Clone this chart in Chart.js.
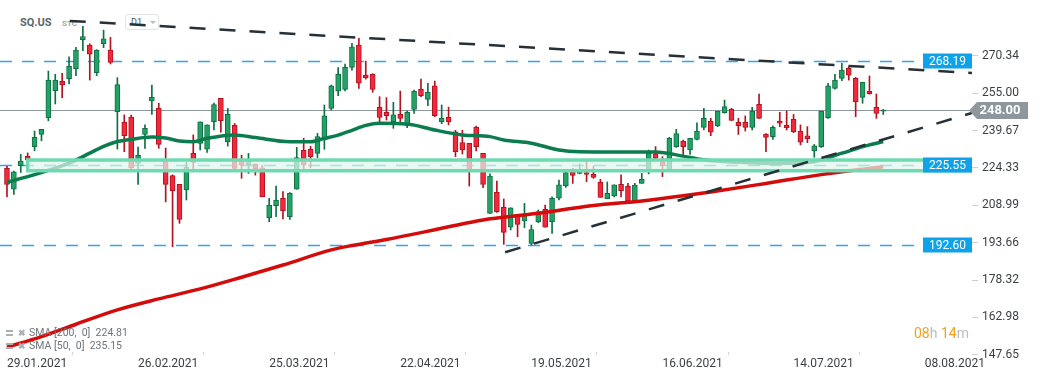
<!DOCTYPE html>
<html>
<head>
<meta charset="utf-8">
<script src="https://cdn.jsdelivr.net/npm/chart.js@4/dist/chart.umd.min.js"></script>
<style>
html,body{margin:0;padding:0;background:#fff;}
#wrap{position:relative;width:1041px;height:379px;font-family:Roboto,"Noto Sans",sans-serif;overflow:hidden;}
#c{position:absolute;left:0;top:0;z-index:2;}
.ov{position:absolute;z-index:1;white-space:pre;}
#sym{left:20px;top:16px;font-size:11px;font-weight:700;color:#5a656c;}
#stc{left:62px;top:19px;font-size:8px;font-weight:700;color:#9ba6ad;}
#tf{left:125px;top:14px;width:34px;height:16px;border:1px solid #e2e5e7;border-radius:3px;box-sizing:border-box;}
#tf span{position:absolute;left:5px;top:2px;font-size:9px;color:#4a4f53;}
#tf i{position:absolute;left:24px;top:6px;width:0;height:0;border-left:3.5px solid transparent;border-right:3.5px solid transparent;border-top:3px solid #b8bfc4;}
.lg{left:6px;font-size:10.5px;color:#6d747a;z-index:3;}
.lg b{display:inline-block;width:7px;height:6px;border-top:2px solid #a9afb3;border-bottom:2px solid #a9afb3;box-sizing:border-box;margin-right:5px;vertical-align:0px;}
.lg em{font-style:normal;font-weight:700;color:#a9afb3;font-size:9px;margin-right:3px;}
#lg1{top:326px;}
#lg2{top:339px;}
#tm{left:914px;top:325px;font-size:14px;z-index:3;}
#tm .o{color:#f7a01c;}
#tm .g{color:#b9c0c5;}
</style>
</head>
<body>
<div id="wrap">
  <div class="ov" id="sym">SQ.US</div>
  <div class="ov" id="stc">STC</div>
  <div class="ov" id="tf"><span>D1</span><i></i></div>
  <div class="ov lg" id="lg1"><b></b><em>✖</em>SMA [200,  0]  224.81</div>
  <div class="ov lg" id="lg2"><b></b><em>✖</em>SMA [50,  0]  235.15</div>
  <div class="ov" id="tm"><span class="o">08</span><span class="g">h </span><span class="o">14</span><span class="g">m</span></div>
  <canvas id="c" width="1041" height="379"></canvas>
</div>
<script>
// ---- Daily candles (index 0 = 29.01.2021) ----
const opens  = [224.2,215.6,225.3,229.1,233.1,238.1,245.0,256.1,259.9,261.0,265.1,277.0,274.8,263.4,275.3,272.7,247.4,243.1,245.2,226.2,
                238.1,251.9,248.8,227.6,221.2,217.6,215.3,230.3,234.4,232.1,243.3,252.9,235.1,241.8,227.6,225.5,225.8,224.4,203.9,208.9,
                211.9,204.3,215.6,231.6,232.1,230.3,235.8,248.8,255.9,256.6,265.6,274.8,262.5,262.8,249.2,247.2,243.3,246.3,241.7,248.4,
                256.6,252.5,258.0,243.3,245.1,239.2,234.8,234.4,241.0,230.3,205.7,214.3,208.2,200.0,205.3,202.6,193.4,202.3,207.4,202.3,
                211.9,217.1,222.8,222.1,222.4,221.8,218.4,211.7,212.9,217.6,216.8,210.8,218.0,223.5,230.1,226.9,223.5,233.1,235.4,231.7,
                236.1,241.0,243.6,241.6,247.0,248.4,243.1,243.1,241.0,250.5,238.1,237.2,243.6,241.8,244.3,239.5,237.5,231.3,233.1,245.0,
                257.0,261.1,265.2,261.1,253.3,255.8,249.2,247.6];
const highs  = [225.0,223.1,229.9,230.5,239.5,240.2,264.1,262.8,263.2,269.9,273.8,282.5,275.3,272.9,280.9,277.9,261.4,246.1,246.0,232.9,
                242.0,258.4,250.9,232.5,221.5,217.6,226.6,237.9,243.3,242.0,251.0,252.9,248.8,242.6,229.6,230.3,226.0,225.5,211.9,216.9,
                214.6,214.2,232.8,236.5,233.2,238.5,250.2,258.4,265.5,267.0,275.5,277.5,268.2,263.0,253.6,253.2,251.3,255.9,247.7,256.3,
                260.8,259.1,260.0,250.2,249.3,239.8,239.8,234.4,241.5,230.3,221.9,219.0,211.6,208.0,205.3,209.8,200.9,207.1,209.1,212.5,
                219.4,223.8,224.2,226.0,227.0,225.1,219.7,218.6,217.4,221.5,218.0,218.0,222.1,231.7,233.1,229.0,236.9,240.2,235.8,236.5,
                242.9,248.8,244.7,247.7,252.2,248.8,244.7,245.7,249.2,254.7,238.5,241.6,247.2,247.7,246.3,242.0,241.3,234.0,247.7,259.1,
                262.8,267.3,265.9,261.5,259.5,262.1,254.7,248.4];
const lows   = [212.5,213.5,222.5,226.0,231.4,235.5,243.7,250.6,253.2,258.8,262.2,272.5,260.4,262.2,273.7,267.0,232.1,231.0,223.5,217.6,
                232.4,246.3,232.4,210.4,192.0,201.6,211.2,223.5,231.7,230.7,239.9,239.0,233.3,223.8,220.1,222.1,221.4,212.5,202.3,204.3,
                203.4,203.2,215.6,224.0,224.4,228.6,232.0,248.1,254.0,256.0,264.5,257.0,260.8,255.4,243.1,244.0,240.6,243.1,240.9,246.7,
                253.6,249.9,245.4,242.5,242.0,229.0,230.1,216.9,231.3,216.2,205.7,206.1,193.0,198.9,196.1,199.8,192.7,201.9,200.0,197.5,
                211.2,216.4,218.0,221.9,218.7,220.1,212.3,211.7,212.5,212.5,210.5,210.5,218.0,221.9,227.6,220.8,223.5,232.8,229.3,229.9,
                235.8,239.9,237.6,241.3,246.8,243.8,238.1,239.5,239.9,244.7,231.0,236.1,241.3,239.9,238.8,233.8,234.7,228.7,232.8,244.7,
                256.7,260.2,260.4,245.4,250.9,254.6,244.7,246.3];
const closes = [217.6,222.8,227.2,227.7,236.9,240.2,260.4,260.4,258.4,266.0,272.7,278.3,271.0,272.7,277.3,267.7,258.6,237.6,224.5,229.6,
                240.6,253.3,234.0,217.6,215.0,203.2,224.6,226.6,243.3,242.0,250.4,243.7,246.3,224.2,225.5,227.2,223.9,212.5,209.1,211.2,
                206.8,213.9,228.6,225.5,229.0,237.2,245.7,258.0,262.8,265.6,274.1,259.1,261.4,256.6,245.1,245.8,246.1,244.7,247.2,255.9,
                254.0,255.4,245.8,244.7,243.3,231.0,231.7,223.5,233.1,217.6,221.0,206.4,197.9,208.0,201.2,204.8,199.1,206.4,200.0,211.9,
                217.4,222.4,221.3,223.9,221.7,220.5,212.3,213.9,217.4,215.0,210.8,217.3,219.7,230.3,228.3,225.3,236.5,238.5,233.1,236.5,
                239.5,244.7,239.0,247.7,249.5,243.8,241.7,241.0,247.7,244.7,236.9,241.0,242.7,240.9,239.2,234.9,236.4,233.4,247.7,258.0,
                260.4,264.5,262.4,251.5,259.5,254.8,246.7,248.0];

// ---- Moving averages (candle index -> value) ----
const sma50Idx = [0,4,9,12,14,16,18,21,23,25,27,29,33,36,41,44,46,48,50,52,54,58,62,66,70,72,76,80,83,90,94,98,101,106,112,117,121,125,127];
const sma50Val = [218.5,221.6,226.3,230.4,233.2,235.2,236.1,237.0,236.6,235.4,235.1,236.5,237.9,236.8,235.1,235.1,236.5,237.8,239.8,241.8,242.7,242.4,239.9,237.9,237.2,235.8,234.5,231.7,231.0,230.9,230.9,229.2,227.6,226.7,226.2,226.9,230.4,233.8,235.15];
const sma200Idx = [0,5,10,16,22,28,34,40,47,50,55,60,64,69,76,85,92,98,102,110,118,127];
const sma200Val = [150.8,155.1,160.2,166.1,170.6,174.7,179.5,184.5,190.7,192.5,195.0,197.8,200.2,203.0,205.4,208.9,210.8,212.9,214.5,218.0,221.6,224.81];

// ---- Drawn trend lines (candle index, price) ----
const trendTop = [{x: 9.1, y: 284.7}, {x: 139.86, y: 263.3}];
const trendUp  = [{x: 72.2, y: 189.75}, {x: 139.86, y: 246.9}];

// ---- Levels ----
const blueLevels = [268.19, 225.55, 192.60];
const lastPrice = 248.00;
const zone = [223.2, 227.6];
const zoneStartIdx = 3;

// ---- Axis ticks ----
const dateTickIdx = [0, 19, 38, 57, 76, 95, 114, 133];
const dateTickLbl = ['29.01.2021','26.02.2021','25.03.2021','22.04.2021','19.05.2021','16.06.2021','14.07.2021','08.08.2021'];
const priceTicks = [147.65, 162.98, 178.32, 193.66, 208.99, 224.33, 239.67, 255.00, 270.34];

const UP_FILL = '#23a266', UP_LINE = '#0f6e44', DN_FILL = '#f2283c', DN_LINE = '#b3121f';
const up = i => closes[i] >= opens[i];

const wickData = highs.map((h, i) => ({x: i, y: [lows[i], h]}));
const bodyData = opens.map((o, i) => ({x: i, y: [Math.min(o, closes[i]), Math.max(o, closes[i])]}));

function drawZone(chart) {
  const {ctx, chartArea: a, scales: {x, y}} = chart;
  ctx.save();
  ctx.beginPath(); ctx.rect(a.left, a.top, a.right - a.left, a.bottom - a.top); ctx.clip();
  const x0 = x.getPixelForValue(zoneStartIdx);
  const yt = y.getPixelForValue(zone[1]), yb = y.getPixelForValue(zone[0]);
  ctx.fillStyle = 'rgba(222,246,236,0.72)';
  ctx.fillRect(x0, yt, a.right + 5 - x0, yb - yt);
  ctx.strokeStyle = '#6fd9b1';
  ctx.lineWidth = 3.5;
  ctx.strokeRect(x0, yt, a.right + 5 - x0, yb - yt);
  ctx.restore();
}

const levelPlugin = {
  id: 'levels',
  beforeDatasetsDraw(chart) {
    const {ctx, chartArea: a, scales: {y}} = chart;
    ctx.save();
    ctx.beginPath(); ctx.rect(a.left, a.top, a.right - a.left, a.bottom - a.top); ctx.clip();
    ctx.strokeStyle = '#2aa9ee'; ctx.lineWidth = 1.3; ctx.setLineDash([12, 10]);
    blueLevels.forEach(v => {
      const py = Math.round(y.getPixelForValue(v)) + 0.5;
      ctx.beginPath(); ctx.moveTo(a.left, py); ctx.lineTo(a.right - 56, py); ctx.stroke();
    });
    ctx.setLineDash([]);
    ctx.strokeStyle = '#8e979c'; ctx.lineWidth = 1;
    const pl = Math.round(y.getPixelForValue(lastPrice)) + 0.5;
    ctx.beginPath(); ctx.moveTo(a.left, pl); ctx.lineTo(a.right, pl); ctx.stroke();
    ctx.restore();
    chart.$zoneDone = false;
  },
  beforeDatasetDraw(chart, args) {
    if (!chart.$zoneDone && chart.data.datasets[args.index].isTrend) { drawZone(chart); chart.$zoneDone = true; }
  },
  afterDatasetsDraw(chart) {
    if (!chart.$zoneDone) { drawZone(chart); chart.$zoneDone = true; }
    const {ctx, chartArea: a, scales: {y}} = chart;
    ctx.save();
    ctx.font = '12px Roboto';
    ctx.textAlign = 'center'; ctx.textBaseline = 'middle';
    blueLevels.forEach(v => {
      const py = Math.round(y.getPixelForValue(v));
      ctx.fillStyle = '#0ea2ea';
      ctx.fillRect(a.right - 49, py - 7.5, 49, 15);
      ctx.fillStyle = '#ffffff';
      ctx.fillText(v.toFixed(2), a.right - 24.5, py + 0.5);
    });
    const pl = Math.round(y.getPixelForValue(lastPrice)) + 0.5;
    ctx.fillStyle = '#8d979c';
    ctx.beginPath();
    ctx.moveTo(a.right - 3, pl);
    ctx.lineTo(a.right + 5, pl - 8.5);
    ctx.lineTo(a.right + 56, pl - 8.5);
    ctx.lineTo(a.right + 56, pl + 8.5);
    ctx.lineTo(a.right + 5, pl + 8.5);
    ctx.closePath(); ctx.fill();
    ctx.fillStyle = '#ffffff';
    ctx.font = 'bold 13px Roboto';
    ctx.fillText(lastPrice.toFixed(2), a.right + 28, pl + 0.5);
    ctx.restore();
  }
};

new Chart(document.getElementById('c'), {
  type: 'bar',
  data: {
    datasets: [
      {
        type: 'bar', data: wickData, grouped: false, order: 6,
        barThickness: 1, borderWidth: 0,
        backgroundColor: ctx => up(ctx.dataIndex) ? UP_LINE : DN_LINE
      },
      {
        type: 'bar', data: bodyData, grouped: false, order: 5,
        barThickness: 5, borderWidth: 1, borderSkipped: false, minBarLength: 1,
        backgroundColor: ctx => up(ctx.dataIndex) ? UP_FILL : DN_FILL,
        borderColor: ctx => up(ctx.dataIndex) ? UP_LINE : DN_LINE
      },
      {
        type: 'line', order: 4,
        data: sma200Idx.map((ix, k) => ({x: ix, y: sma200Val[k]})),
        borderColor: '#d40b0b', borderWidth: 3.5, pointRadius: 0, cubicInterpolationMode: 'monotone', fill: false
      },
      {
        type: 'line', order: 3,
        data: sma50Idx.map((ix, k) => ({x: ix, y: sma50Val[k]})),
        borderColor: '#0a7c4e', borderWidth: 3.5, pointRadius: 0, cubicInterpolationMode: 'monotone', fill: false
      },
      {
        type: 'line', order: 1, isTrend: true, data: trendTop,
        borderColor: '#263036', borderWidth: 2.5, borderDash: [16, 14], pointRadius: 0, fill: false
      },
      {
        type: 'line', order: 1, isTrend: true, data: trendUp,
        borderColor: '#263036', borderWidth: 2.5, borderDash: [16, 14], pointRadius: 0, fill: false
      }
    ]
  },
  options: {
    responsive: false,
    animation: false,
    events: [],
    layout: {padding: 0},
    plugins: {legend: {display: false}, tooltip: {enabled: false}},
    scales: {
      x: {
        type: 'linear', min: -1.01, max: 139.86, offset: false,
        afterBuildTicks: s => { s.ticks = dateTickIdx.map(v => ({value: v})); },
        afterFit: s => { s.height = 27; s.paddingLeft = 0; s.paddingRight = 0; },
        grid: {drawOnChartArea: false, drawTicks: true, tickLength: 3, color: '#d5d5d5'},
        border: {display: false},
        ticks: {
          autoSkip: false, maxRotation: 0, align: 'start', padding: 2,
          font: {family: 'Roboto', size: 12}, color: '#3b3f43',
          callback: v => { const k = dateTickIdx.indexOf(v); return k >= 0 ? dateTickLbl[k] : ''; }
        }
      },
      y: {
        type: 'linear', position: 'right', min: 148.81, max: 293.27,
        afterBuildTicks: s => { s.ticks = priceTicks.map(v => ({value: v})); },
        afterFit: s => { s.width = 69; s.paddingTop = 0; s.paddingBottom = 0; },
        grid: {drawOnChartArea: false, drawTicks: true, tickLength: 6, color: '#cfcfcf'},
        border: {display: false},
        ticks: {
          padding: 4, font: {family: 'Roboto', size: 12}, color: '#3b3f43',
          callback: v => Number(v).toFixed(2)
        }
      }
    }
  },
  plugins: [levelPlugin]
});
</script>
</body>
</html>
